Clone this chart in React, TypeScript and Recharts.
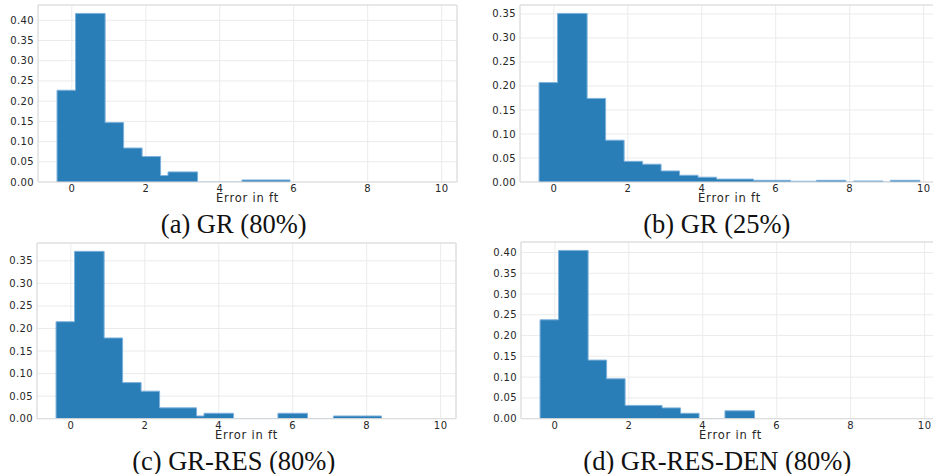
import { AreaChart, Area, XAxis, YAxis, CartesianGrid, ReferenceArea, Label } from 'recharts'

// histogram bins: edges (ft) and normalised counts
const X_TICKS = [0, 2, 4, 6, 8, 10]
const X_DOMAIN: [number, number] = [-0.915, 10.415]

const Y_TICKS_40 = [0, 0.05, 0.1, 0.15, 0.2, 0.25, 0.3, 0.35, 0.4]
const Y_TICKS_35 = [0, 0.05, 0.1, 0.15, 0.2, 0.25, 0.3, 0.35]

const grEdges80 = [-0.4, 0.1, 0.9, 1.4, 1.9, 2.4, 2.6, 3.4, 4.6, 5.9]
const grDensity80 = [0.227, 0.417, 0.147, 0.084, 0.063, 0.016, 0.025, 0, 0.005]

const grEdges25 = [-0.4, 0.1, 0.9, 1.4, 1.9, 2.4, 2.9, 3.4, 3.9, 4.4, 5.4, 6.4, 7.1, 7.9, 8.1, 8.9, 9.1, 9.9]
const grDensity25 = [0.207, 0.351, 0.174, 0.087, 0.043, 0.037, 0.023, 0.014, 0.01, 0.006, 0.0035, 0.0015, 0.0035, 0, 0.002, 0, 0.0035]

const resEdges = [-0.4, 0.1, 0.9, 1.4, 1.9, 2.4, 3.4, 3.6, 4.4, 5.6, 6.4, 7.1, 8.4]
const resDensity = [0.215, 0.371, 0.179, 0.08, 0.061, 0.024, 0.006, 0.012, 0, 0.012, 0, 0.006]

const denEdges = [-0.4, 0.1, 0.9, 1.4, 1.9, 2.9, 3.4, 3.9, 4.6, 5.4]
const denDensity = [0.238, 0.405, 0.141, 0.096, 0.032, 0.026, 0.013, 0, 0.019]

const CAPTIONS = ['(a) GR (80%)', '(b) GR (25%)', '(c) GR-RES (80%)', '(d) GR-RES-DEN (80%)']

const BLUE = '#1f77b4'
const TEXT = '#262626'

// stepfilled outline: start and end on the baseline
function toSteps(edges: number[], density: number[]) {
  const last = edges.length - 1
  return [
    { x: edges[0], y: 0 },
    ...density.map((d, i) => ({ x: edges[i], y: d })),
    { x: edges[last], y: density[density.length - 1] },
    { x: edges[last], y: 0 },
  ]
}

interface PanelProps {
  edges: number[]
  density: number[]
  yTicks: number[]
  caption: string
  plotLeft: number
  plotTop: number
  plotHeight: number
  captionX: number
  captionBaseline: number
}

function Panel({ edges, density, yTicks, caption, plotLeft, plotTop, plotHeight, captionX, captionBaseline }: PanelProps) {
  const data = toSteps(edges, density)
  const yMax = Math.max(...density) * 1.05
  return (
    <>
      <div style={{ position: 'absolute', left: plotLeft - 38, top: plotTop - 5 }}>
        <AreaChart
          width={467}
          height={5 + plotHeight + 30}
          data={data}
          margin={{ top: 5, right: 10, bottom: 0, left: 4 }}
        >
          <CartesianGrid stroke="#ebebeb" strokeWidth={1} />
          <XAxis
            dataKey="x"
            type="number"
            domain={X_DOMAIN}
            ticks={X_TICKS}
            interval={0}
            height={30}
            axisLine={false}
            tickLine={false}
            tickSize={0}
            tickMargin={3}
            tick={{ fill: TEXT, fontSize: 10 }}
            allowDataOverflow
          >
            <Label value="Error in ft" position="insideBottom" offset={10} fill={TEXT} fontSize={11.5} />
          </XAxis>
          <YAxis
            type="number"
            domain={[0, yMax]}
            ticks={yTicks}
            interval={0}
            width={34}
            axisLine={false}
            tickLine={false}
            tickSize={0}
            tickMargin={4}
            tick={{ fill: TEXT, fontSize: 10 }}
            tickFormatter={(v: number) => v.toFixed(2)}
            allowDataOverflow
          />
          <Area
            type="stepAfter"
            dataKey="y"
            fill={BLUE}
            fillOpacity={0.95}
            stroke="#7db1dc"
            strokeWidth={1}
            dot={false}
            activeDot={false}
            isAnimationActive={false}
          />
          <ReferenceArea x1={X_DOMAIN[0]} x2={X_DOMAIN[1]} y1={0} y2={yMax} fill="none" stroke="#dadada" strokeWidth={1} ifOverflow="visible" />
        </AreaChart>
      </div>
      <div
        style={{
          position: 'absolute',
          left: captionX - 200,
          width: 400,
          top: captionBaseline - 22.2,
          textAlign: 'center',
          fontFamily: '"Liberation Serif", serif',
          fontSize: 26.5,
          lineHeight: '26.5px',
          color: '#111',
          whiteSpace: 'nowrap',
        }}
      >
        {caption}
      </div>
    </>
  )
}

export default function App() {
  return (
    <div
      style={{
        position: 'absolute',
        left: 0,
        top: 0,
        width: 933,
        height: 474,
        overflow: 'hidden',
        background: '#fff',
        fontFamily: '"DejaVu Sans", sans-serif',
      }}
    >
      <style>{`
        .recharts-cartesian-axis-tick-value { letter-spacing: 0.4px; }
        .recharts-label { letter-spacing: 0.8px; }
      `}</style>
      <Panel edges={grEdges80} density={grDensity80} yTicks={Y_TICKS_40} caption={CAPTIONS[0]}
        plotLeft={38} plotTop={5} plotHeight={177} captionX={233.7} captionBaseline={233.3} />
      <Panel edges={grEdges25} density={grDensity25} yTicks={Y_TICKS_35} caption={CAPTIONS[1]}
        plotLeft={520.3} plotTop={5} plotHeight={177} captionX={716.8} captionBaseline={233.3} />
      <Panel edges={resEdges} density={resDensity} yTicks={Y_TICKS_35} caption={CAPTIONS[2]}
        plotLeft={37.3} plotTop={243} plotHeight={175.7} captionX={233.7} captionBaseline={470.3} />
      <Panel edges={denEdges} density={denDensity} yTicks={Y_TICKS_40} caption={CAPTIONS[3]}
        plotLeft={521} plotTop={242} plotHeight={176.7} captionX={717.3} captionBaseline={470.3} />
    </div>
  )
}
